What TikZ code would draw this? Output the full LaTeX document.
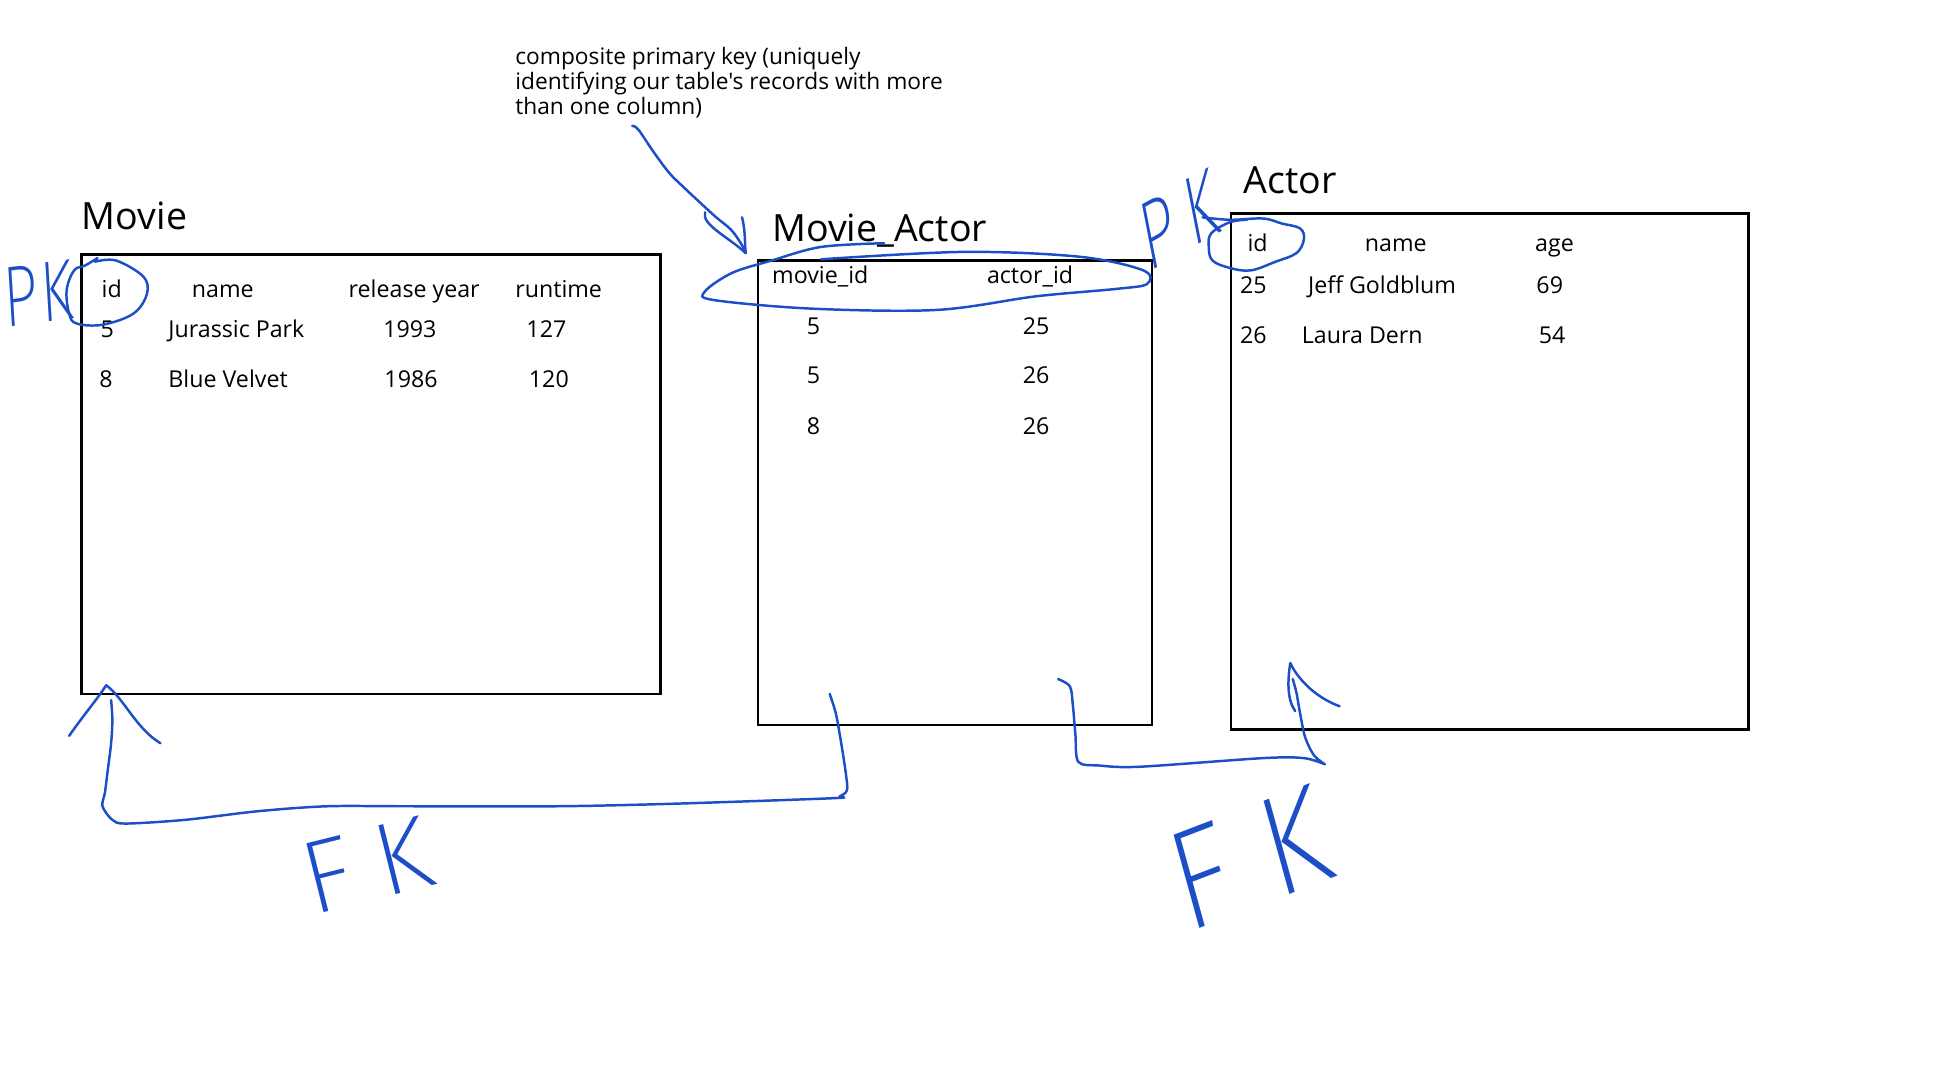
\documentclass[tikz,border=0pt]{standalone}
\usepackage{fontspec}
\setmainfont{Open Sans}
\newfontfamily\notefont{Open Sans}
\newfontfamily\handfont{Fira Sans ExtraLight}
\definecolor{ink}{RGB}{28,78,200}

\begin{document}
\begin{tikzpicture}[x=0.5pt,y=-0.5pt,
  tbl/.style={draw,line width=1pt,inner sep=0pt,anchor=north west},
  title/.style={anchor=base west,inner sep=0pt,font=\fontsize{15.2}{18}\selectfont},
  cell/.style={anchor=base west,inner sep=0pt,font=\fontsize{9.4}{11}\selectfont},
  pen/.style={draw=ink,line width=1pt,line cap=round,line join=round},
  hand/.style={text=ink,inner sep=0pt}]
  \useasboundingbox (0,0) rectangle (1568,882);

  % the three tables
  \node[tbl,minimum width=234.5pt,minimum height=178pt] (movie) at (65,205) {};
  \node[tbl,minimum width=159.5pt,minimum height=188pt] (movieactor) at (613,210) {};
  \node[tbl,minimum width=209.5pt,minimum height=209pt] (actor) at (996,172) {};
  \node[title] (movietitle) at (66,186) {Movie};
  \node[title] (movieactortitle) at (625,196) {Movie\_Actor};
  \node[title] (actortitle) at (1007,157) {Actor};

  % Movie
  \node[cell] (mhid) at (82,241) {id};
  \node[cell] (mhname) at (155,241) {name};
  \node[cell] (mhyear) at (282,241) {release year};
  \node[cell] (mhrun) at (417,241) {runtime};
  \node[cell] (maid) at (81,273) {5};
  \node[cell] (maname) at (136,273) {Jurassic Park};
  \node[cell] (mayear) at (310,273) {1993};
  \node[cell] (marun) at (426,273) {127};
  \node[cell] (mbid) at (80,314) {8};
  \node[cell] (mbname) at (136,314) {Blue Velvet};
  \node[cell] (mbyear) at (311,314) {1986};
  \node[cell] (mbrun) at (428,314) {120};

  % Movie_Actor
  \node[cell] (jhmovie) at (625,230) {movie\_id};
  \node[cell] (jhactor) at (799,230) {actor\_id};
  \node[cell] (jamovie) at (653,271) {5};
  \node[cell] (jaactor) at (828,271) {25};
  \node[cell] (jbmovie) at (653,311) {5};
  \node[cell] (jbactor) at (828,311) {26};
  \node[cell] (jcmovie) at (653,352) {8};
  \node[cell] (jcactor) at (828,352) {26};

  % Actor
  \node[cell] (ahid) at (1010,204) {id};
  \node[cell] (ahname) at (1105,204) {name};
  \node[cell] (ahage) at (1243,204) {age};
  \node[cell] (aaid) at (1004,237.5) {25};
  \node[cell] (aaname) at (1059,237.5) {Jeff Goldblum};
  \node[cell] (aaage) at (1244,237.5) {69};
  \node[cell] (abid) at (1004,278) {26};
  \node[cell] (abname) at (1054,278) {Laura Dern};
  \node[cell] (abage) at (1246,278) {54};

  % note on the composite key
  \node[anchor=north west,inner sep=0pt,align=left,font=\notefont\fontsize{9.2}{10}\selectfont]
    (note) at (417,38) {composite primary key (uniquely\\identifying our table's records with more\\than one column)};
  \coordinate (noteend) at (512,102);
  \coordinate (notetip) at (604,205);
  \draw[pen] plot[smooth,tension=.6] coordinates {(noteend) (517,105) (530,124) (542,140)
    (553,151) (568,165) (580,176) (592,186) (600,197) (notetip)};
  \draw[pen] (571,172) .. controls (568,182) and (590,192) .. (notetip);
  \draw[pen] (601,176) .. controls (604,188) and (603,198) .. (notetip);
  \draw[pen] plot[smooth,tension=.55] coordinates {(716,197) (665,200) (625,211) (593,221)
    (571,236) (578,243) (658,250) (759,251) (839,240) (904,234) (929,230) (926,219)
    (875,208) (781,204) (665,210)};

  % primary keys
  \node[hand,font=\handfont\fontsize{35}{35}\selectfont,xscale=.7,rotate=5] (pkmovie) at (31,238) {P\hspace{2pt}K};
  \draw[pen] plot[smooth,tension=.6] coordinates {(79,209) (69,215) (60,219) (54,235)
    (56,254) (62,262) (83,263) (108,254) (119,238) (116,224) (94,211) (77,212)};
  \node[hand,font=\handfont\fontsize{40}{40}\selectfont,xscale=.6,rotate=18] (pkactor) at (955,178) {P\hspace{9pt}K};
  \draw[pen] plot[smooth,tension=.6] coordinates {(974,176) (996,178) (1023,177) (1038,181)
    (1053,185) (1056,194) (1050,205) (1033,212) (1013,219) (996,217) (982,211) (979,200)
    (981,189) (996,180) (1010,178)};

  % foreign keys
  \coordinate (fkmoviestart) at (672,562);
  \coordinate (fkmovietip) at (86,555);
  \draw[pen] plot[smooth,tension=.5] coordinates {(fkmoviestart) (677,578) (681,600)
    (685,626) (686,640) (680,645) (674,646.5) (544,651) (451,653) (330,653) (265,653)
    (209,657) (150,664) (102,667) (91,664) (83,653) (85,642) (87,626) (90,602) (91,583) (90,567)};
  \draw[pen] (56,596) .. controls (67,580) and (79,566) .. (fkmovietip)
    .. controls (100,565) and (110,590) .. (130,602);
  \node[hand,font=\handfont\fontsize{42}{42}\selectfont,rotate=14] (fkmovie) at (297,701) {F\hspace{10pt}K};

  \coordinate (fkactorstart) at (857,550);
  \coordinate (fkactortip) at (1045,537);
  \draw[pen] plot[smooth,tension=.5] coordinates {(fkactorstart) (866.6,556) (869,572)
    (871,595) (873.3,617) (890,620) (923,621) (1023,614) (1056,614) (1073,619)}
    -- plot[smooth,tension=.5] coordinates {(1073,619) (1064,611.5) (1057,597) (1053,578)
    (1050,561) (1047,550)};
  \draw[pen] (1049,576) .. controls (1042,566) and (1043,550) .. (fkactortip)
    .. controls (1052,552) and (1068,566) .. (1085,572);
  \node[hand,font=\handfont\fontsize{58}{58}\selectfont,xscale=.85,rotate=18] (fkactor) at (1012,695) {F\hspace{17pt}K};
\end{tikzpicture}
\end{document}
